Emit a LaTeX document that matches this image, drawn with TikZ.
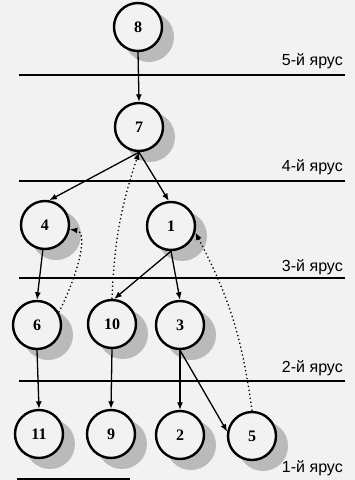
\documentclass[tikz,border=0pt]{standalone}
\usepackage{fontspec}
\setmainfont{Liberation Serif}
\newfontfamily\labfont{Liberation Sans}
\usetikzlibrary{arrows.meta}
\definecolor{paper}{gray}{0.95}
\tikzset{
  vert/.style={circle, draw, line width=2.4pt, minimum size=48pt, inner sep=0pt, fill=paper,
    font=\fontsize{16}{16}\selectfont\bfseries},
  shade/.style={fill=black!27, draw=none},
  edge/.style={line width=1.3pt, -{Latex[length=7.5pt,width=6pt]}},
  back/.style={line width=1.3pt, dash pattern=on 1.3pt off 2.7pt, -{Latex[length=7.5pt,width=6pt]}},
  tier/.style={line width=1.4pt},
  tierlab/.style={anchor=east, inner sep=0pt, font=\labfont\fontsize{16}{16}\selectfont}
}
\begin{document}
\begin{tikzpicture}[x=1pt,y=1pt]
\useasboundingbox (0,0) rectangle (355,-480);
\fill[paper] (0,0) rectangle (355,-480);
% tier lines
\draw[tier] (19,-75) -- (345,-75);
\draw[tier] (19,-181) -- (345,-181);
\draw[tier] (19,-278) -- (345,-278);
\draw[tier] (19,-381) -- (345,-381);
\draw[line width=3pt] (17,-479.5) -- (130,-479.5);
% labels
\node[tierlab] (l5) at (343,-61) {5-й ярус};
\node[tierlab] (l4) at (343,-167) {4-й ярус};
\node[tierlab] (l3) at (343,-267) {3-й ярус};
\node[tierlab] (l2) at (343,-368) {2-й ярус};
\node[tierlab] (l1) at (343,-468) {1-й ярус};
% shadows
\foreach \p in {(138,-27),(139,-127),(45,-225),(171,-226),(37,-325),(112,-324),(180,-325),(39,-434),(111,-434),(180,-435),(252,-436)}
  \fill[shade] \p ++(11,-10) circle (25);
% nodes
\node[vert] (n8) at (138,-27) {8};
\node[vert] (n7) at (139,-127) {7};
\node[vert] (n4) at (45,-225) {4};
\node[vert] (n1) at (171,-226) {1};
\node[vert] (n6) at (37,-325) {6};
\node[vert] (n10) at (112,-324) {10};
\node[vert] (n3) at (180,-325) {3};
\node[vert] (n11) at (39,-434) {11};
\node[vert] (n9) at (111,-434) {9};
\node[vert] (n2) at (180,-435) {2};
\node[vert] (n5) at (252,-436) {5};
% tree edges
\draw[edge] (n8.south) -- (n7.north);
\draw[edge] (n7.south) -- (n4.80);
\draw[edge] (n7.south) -- (n1.95);
\draw[edge] (n4.265) -- (n6.north);
\draw[edge] (n1.south) -- (n10.85);
\draw[edge] (n1.south) -- (n3.north);
\draw[edge] (n6.south) -- (n11.north);
\draw[edge] (n10.south) -- (n9.north);
\draw[edge] (n3.south) -- (n2.north);
\draw[edge] (n3.south) -- (n5.170);
% back edges
\draw[back] (n6.30) .. controls (80,-270) and (88,-232) .. (n4.-10);
\draw[back] (n10.north) to[bend left=8] (n7.south);
\draw[back] (n5.north) to[bend right=10] (n1.-15);
\end{tikzpicture}
\end{document}
